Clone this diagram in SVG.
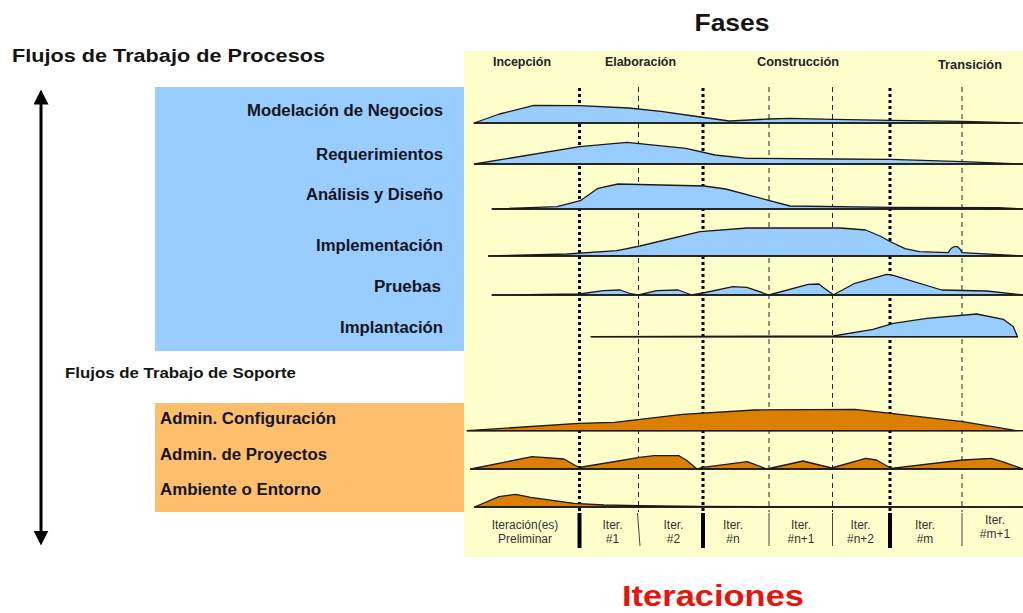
<svg xmlns="http://www.w3.org/2000/svg" width="1023" height="613" viewBox="0 0 1023 613">
<style>
.h{font-family:"Liberation Sans",Arial,sans-serif;font-weight:bold;fill:#141414}
.lab{font-family:"Liberation Sans",Arial,sans-serif;font-weight:bold;font-size:16px;fill:#141420}
.ph{font-family:"Liberation Sans",Arial,sans-serif;font-weight:bold;font-size:12px;fill:#222}
.it{font-family:"Liberation Sans",Arial,sans-serif;font-size:12px;fill:#333;text-anchor:middle}
.cb{fill:#99CCFF;stroke:#1a1a1a;stroke-width:1.3;stroke-linejoin:round}
.co{fill:#DB7F00;stroke:#1a1a1a;stroke-width:1.3;stroke-linejoin:round}
.base{stroke:#1a1a1a;stroke-width:1.6}
.thick{stroke:#000;stroke-width:3;stroke-dasharray:3 3}
.dash{stroke:#222;stroke-width:1;stroke-dasharray:5 4}
.sep{stroke:#444;stroke-width:1}
.bar{fill:#000}
</style>
<defs>
<marker id="ah" markerWidth="5" markerHeight="5" refX="2.5" refY="2.5" orient="auto-start-reverse" markerUnits="strokeWidth">
<path d="M0,0 L5,2.5 L0,5 Z" fill="#000"/>
</marker>
</defs>
<rect width="1023" height="613" fill="#fff"/>

<g id="panel">
<rect x="464" y="51" width="559" height="506" fill="#FFFFCC"/>
</g>
<g id="blue-box"><rect x="155" y="87" width="309" height="264" fill="#99CCFF"/></g>
<g id="orange-box"><rect x="155" y="403" width="309" height="109" fill="#FDBF6C"/></g>

<g id="titles">
<text class="h" x="732" y="31" font-size="23" text-anchor="middle" textLength="75" lengthAdjust="spacingAndGlyphs">Fases</text>
<text class="h" x="12" y="62" font-size="19" textLength="313" lengthAdjust="spacingAndGlyphs">Flujos de Trabajo de Procesos</text>
<text class="h" x="65" y="378" font-size="15" textLength="231" lengthAdjust="spacingAndGlyphs">Flujos de Trabajo de Soporte</text>
<text x="713" y="606" font-family="Liberation Sans,Arial,sans-serif" font-weight="bold" font-size="30" fill="#E8140C" text-anchor="middle" textLength="182" lengthAdjust="spacingAndGlyphs">Iteraciones</text>
</g>

<g id="phases">
<text class="ph" x="493" y="66" textLength="58" lengthAdjust="spacingAndGlyphs">Incepción</text>
<text class="ph" x="605" y="66" textLength="71" lengthAdjust="spacingAndGlyphs">Elaboración</text>
<text class="ph" x="757" y="66" textLength="82" lengthAdjust="spacingAndGlyphs">Construcción</text>
<text class="ph" x="938" y="69" textLength="64" lengthAdjust="spacingAndGlyphs">Transición</text>
</g>

<g id="labels-proc">
<text class="lab" x="443" y="116" text-anchor="end" textLength="196" lengthAdjust="spacingAndGlyphs">Modelación de Negocios</text>
<text class="lab" x="443" y="160" text-anchor="end" textLength="127" lengthAdjust="spacingAndGlyphs">Requerimientos</text>
<text class="lab" x="443" y="200" text-anchor="end" textLength="137" lengthAdjust="spacingAndGlyphs">Análisis y Diseño</text>
<text class="lab" x="443" y="251" text-anchor="end" textLength="127" lengthAdjust="spacingAndGlyphs">Implementación</text>
<text class="lab" x="441" y="292" text-anchor="end" textLength="67" lengthAdjust="spacingAndGlyphs">Pruebas</text>
<text class="lab" x="443" y="333" text-anchor="end" textLength="103" lengthAdjust="spacingAndGlyphs">Implantación</text>
</g>
<g id="labels-sup">
<text class="lab" x="160" y="424" textLength="176" lengthAdjust="spacingAndGlyphs">Admin. Configuración</text>
<text class="lab" x="160" y="460" textLength="167" lengthAdjust="spacingAndGlyphs">Admin. de Proyectos</text>
<text class="lab" x="160" y="495" textLength="161" lengthAdjust="spacingAndGlyphs">Ambiente o Entorno</text>
</g>

<g id="gridlines">
<line class="thick" x1="579.5" y1="88" x2="579.5" y2="512"/>
<line class="thick" x1="703" y1="88" x2="703" y2="512"/>
<line class="thick" x1="890" y1="88" x2="890" y2="512"/>
<line class="dash" x1="638.5" y1="87" x2="638.5" y2="512"/>
<line class="dash" x1="769" y1="87" x2="769" y2="512"/>
<line class="dash" x1="832.5" y1="87" x2="832.5" y2="512"/>
<line class="dash" x1="962" y1="87" x2="962" y2="512"/>
</g>

<g id="wf-modelacion">
<path class="cb" d="M474,123 L499.5,114 L534,105.3 L579.6,105.7 L628.8,108 L661,111.3 L693.4,116 L729.3,121 L768.8,119 L790,118.3 L833.4,119.3 L891,120.3 L962.7,121.3 L1020,123 Z"/>
<line class="base" x1="474" y1="123" x2="1023" y2="123"/>
</g>
<g id="wf-requerimientos">
<path class="cb" d="M474.4,164 L579.6,146.7 L627,142.3 L686,148.3 L715,155 L747,158.3 L833,159 L891,159.3 L962.7,161.7 L1023,164 Z"/>
<line class="base" x1="474" y1="164" x2="1023" y2="164"/>
</g>
<g id="wf-analisis">
<path class="cb" d="M492,209 L557,206.7 L580.3,200.7 L598,188.3 L618,184 L704,186 L725.7,189 L790,206 L891,207.3 L998.6,207.7 L1023,209 Z"/>
<line class="base" x1="492" y1="209" x2="1023" y2="209"/>
</g>
<g id="wf-implementacion">
<path class="cb" d="M488.7,256 L567,254 L617,250.7 L640,246 L700,231.7 L747,228 L840.6,228 L865.7,230 L880,236 L890,241.5 L905,248.7 L919.6,251.7 L948.3,252.7 L951,248.5 L954,246.7 L957.5,246.7 L960,249 L962,252.7 L1023,256 Z"/>
<line class="base" x1="488" y1="256" x2="1023" y2="256"/>
</g>
<g id="wf-pruebas">
<path class="cb" d="M492,295 L579.6,294 L603.3,290.7 L620,290 L631.7,294 L638.5,295 L656.7,290.7 L678.3,290 L691.7,295 L703,293 L733,286.7 L747,287.3 L768.8,295 L808.3,284.3 L819,284 L824,288 L833.4,294.7 L855,283.3 L886.7,274.3 L893.3,275.3 L941.7,290 L986.7,291 L1023,295 Z"/>
<line class="base" x1="492" y1="295" x2="1023" y2="295"/>
</g>
<g id="wf-implantacion">
<path class="cb" d="M591,336.7 L833.4,336 L873,329.3 L893.3,323.3 L926.7,318.3 L976.7,314 L1003.3,319.3 L1013.3,326.7 L1017.5,336.7 Z"/>
<line class="base" x1="591" y1="336.7" x2="1018" y2="336.7"/>
</g>
<g id="wf-config">
<path class="co" d="M467.2,430.7 L578.5,423.3 L614.4,422.3 L682.6,414.3 L754.4,410 L855,409.3 L891,413.3 L962.7,421.7 L1016.5,430.7 Z"/>
<line class="base" x1="467" y1="430.7" x2="1023" y2="430.7"/>
</g>
<g id="wf-proyectos">
<path class="co" d="M470.8,469 L532,456.7 L564,459 L579,467.5 L639.5,457.3 L654,455.7 L679,455.7 L686.2,460 L697,469 L703,467.3 L747.3,461.7 L767,469 L803,461 L831.6,468 L865.7,458.3 L876.5,460 L891,468.3 L962.7,460 L991.4,458.3 L1002.2,461.7 L1016.5,466.7 L1023,469 Z"/>
<line class="base" x1="470" y1="469" x2="1023" y2="469"/>
</g>
<g id="wf-ambiente">
<path class="co" d="M474.4,507 L499,496.7 L515.7,494.3 L530.7,497.3 L574,503.3 L604,505 L639.5,505.7 L700,506.5 L1023,507 Z"/>
<line class="base" x1="474" y1="507" x2="1023" y2="507"/>
</g>

<g id="iterations">
<rect class="bar" x="577.5" y="513" width="4" height="35"/>
<rect class="bar" x="701" y="513" width="4" height="35"/>
<rect class="bar" x="888" y="513" width="4" height="35"/>
<line class="sep" x1="637.5" y1="513" x2="640" y2="546"/>
<line class="sep" x1="769" y1="513" x2="769" y2="546"/>
<line class="sep" x1="832.5" y1="513" x2="832.5" y2="546"/>
<line class="sep" x1="962" y1="513" x2="962" y2="546"/>
<text class="it" x="525" y="529">Iteración(es)</text>
<text class="it" x="525" y="543">Preliminar</text>
<text class="it" x="612.5" y="529">Iter.</text><text class="it" x="612.5" y="543">#1</text>
<text class="it" x="673.5" y="529">Iter.</text><text class="it" x="673.5" y="543">#2</text>
<text class="it" x="733" y="529">Iter.</text><text class="it" x="733" y="543">#n</text>
<text class="it" x="801" y="529">Iter.</text><text class="it" x="801" y="543">#n+1</text>
<text class="it" x="860.5" y="529">Iter.</text><text class="it" x="860.5" y="543">#n+2</text>
<text class="it" x="925" y="529">Iter.</text><text class="it" x="925" y="543">#m</text>
<text class="it" x="995" y="524">Iter.</text><text class="it" x="995" y="538">#m+1</text>
</g>

<g id="connectors">
<line x1="41" y1="97" x2="41" y2="538" stroke="#000" stroke-width="3" marker-start="url(#ah)" marker-end="url(#ah)"/>
</g>
</svg>
